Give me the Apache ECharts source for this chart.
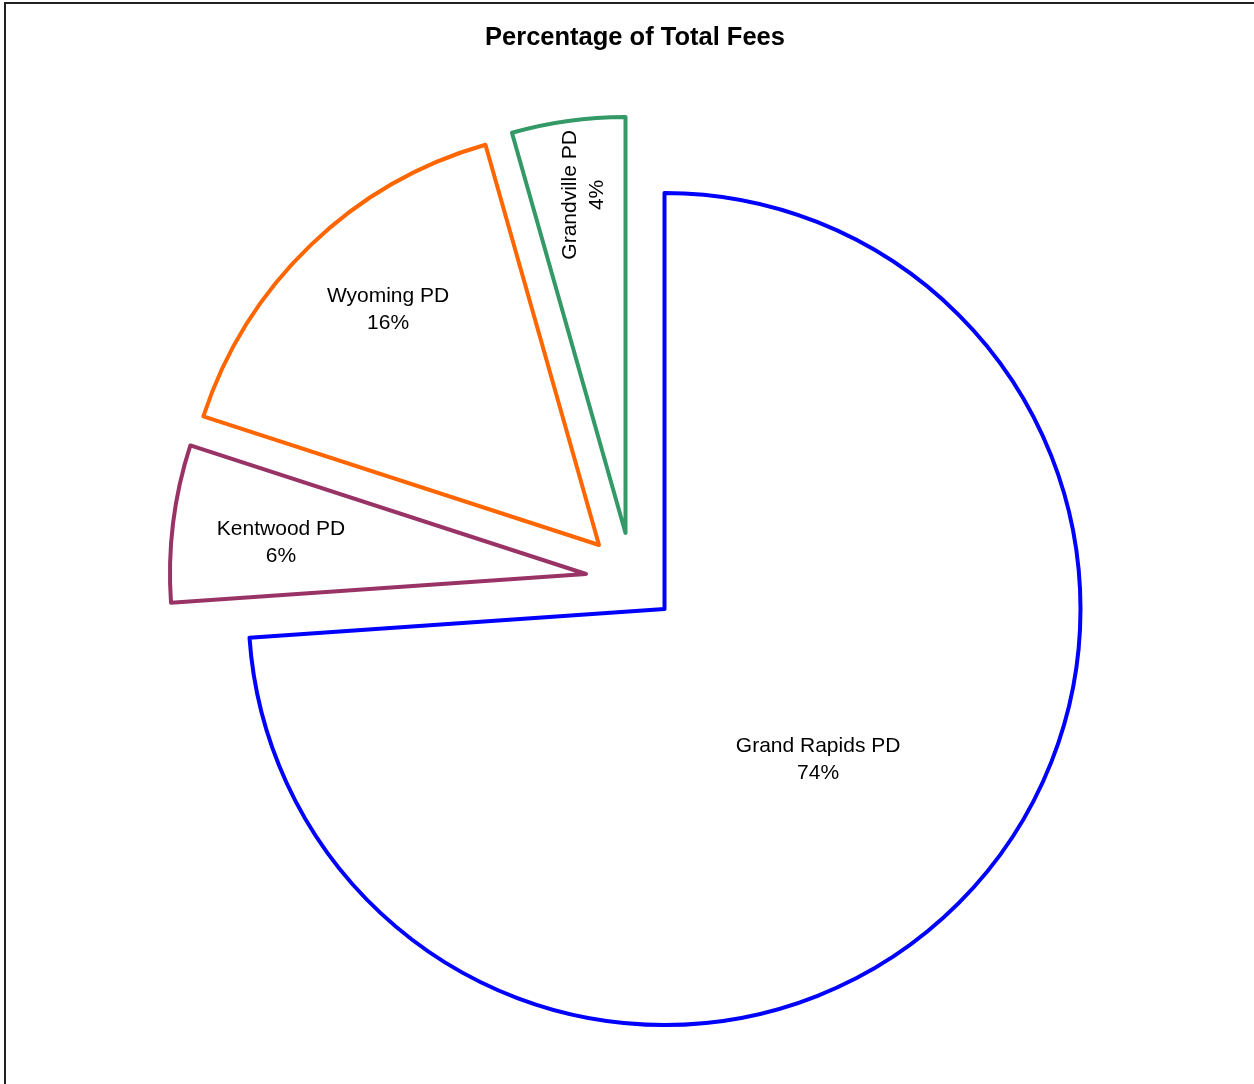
<!DOCTYPE html>
<html><head><meta charset="utf-8">
<script src="https://cdn.jsdelivr.net/npm/echarts@6/dist/echarts.min.js"></script>
<style>html,body{margin:0;padding:0;background:#fff}#c{width:1254px;height:1084px}</style>
</head><body><div id="c"></div>
<script>
// ---- data ----
const categories = ['Grand Rapids PD', 'Kentwood PD', 'Wyoming PD', 'Grandville PD'];
const feeShare = [73.9, 6.1, 15.6, 4.4];
const titleText = 'Percentage of Total Fees';

// ---- style / layout ----
const colors = ['#0000FF', '#993366', '#FF6600', '#339966'];
const sliceCenters = [[664.5, 609], [586, 574], [599, 545], [625.5, 533]]; // exploded slice vertices
const labelFrac = [0.517, 0.737, 0.759, 0.819];      // label distance as fraction of radius
const labelAngleShift = [1.4, -1.1, 2.0, 0.8];        // degrees relative to slice mid-angle
const labelRotate = [0, 0, 0, 90];
const R = 416;
const FONT = '"Liberation Sans", Arial, sans-serif';

const total = feeShare.reduce((a, b) => a + b, 0);
const midAngles = [];
let acc = 0;
feeShare.forEach(v => { midAngles.push((acc + v / 2) / total * 2 * Math.PI); acc += v; });

const series = categories.map((name, k) => ({
  type: 'pie',
  center: sliceCenters[k],
  radius: [0, R],
  startAngle: 90,
  clockwise: true,
  silent: true,
  animation: false,
  avoidLabelOverlap: false,
  emphasis: { disabled: true },
  labelLine: { show: false },
  z: k === 0 ? 2 : 3,
  data: categories.map((n, i) => ({
    name: n,
    value: feeShare[i],
    itemStyle: i === k
      ? { color: 'rgba(0,0,0,0)', borderColor: colors[i], borderWidth: 4, borderJoin: 'round' }
      : { color: 'rgba(0,0,0,0)', borderWidth: 0, opacity: 0 },
    label: i === k
      ? {
          show: true, position: 'inside', rotate: labelRotate[i],
          color: '#000', fontFamily: FONT, fontSize: 21, lineHeight: 27,
          align: 'center', verticalAlign: 'middle',
          formatter: p => p.name + '\n' + Math.round(p.percent) + '%'
        }
      : { show: false }
  })),
  labelLayout: p => {
    const i = p.dataIndex;
    const a = midAngles[i] + labelAngleShift[i] * Math.PI / 180;
    const c = sliceCenters[i];
    return { x: c[0] + labelFrac[i] * R * Math.sin(a), y: c[1] - labelFrac[i] * R * Math.cos(a) };
  }
}));

const chart = echarts.init(document.getElementById('c'), null, { renderer: 'canvas' });
chart.setOption({
  backgroundColor: '#fff',
  animation: false,
  title: {
    text: titleText, left: 630, textAlign: 'center', top: 20,
    textStyle: { fontFamily: FONT, fontSize: 25.5, fontWeight: 'bold', color: '#000' }
  },
  graphic: [{
    type: 'rect', shape: { x: 5, y: 3, width: 1400, height: 1200 },
    style: { fill: 'none', stroke: '#222', lineWidth: 2 }, silent: true, z: 100
  }],
  series
});
</script></body></html>
